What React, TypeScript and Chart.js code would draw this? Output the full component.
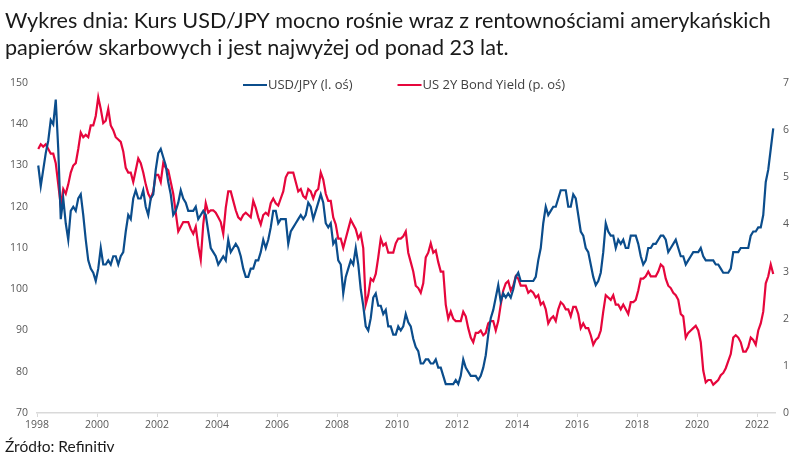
import React, { useEffect, useRef } from "react";
import { Chart, registerables } from "chart.js";

Chart.register(...registerables);

const TITLE_LINES = [
  "Wykres dnia: Kurs USD/JPY mocno rośnie wraz z rentownościami amerykańskich",
  "papierów skarbowych i jest najwyżej od ponad 23 lat.",
];
const SOURCE = "Źródło: Refinitiv";
const SERIES_NAMES = ["USD/JPY (l. oś)", "US 2Y Bond Yield (p. oś)"];
const START_YEAR = 1998;
const X_MIN = 1998;
const X_MAX = 2022.6;
const LEFT_TICKS = { min: 70, max: 150, step: 10 };
const RIGHT_TICKS = { min: 0, max: 7, step: 1 };

// monthly readings, Jan 1998 .. Jul 2022
const usdJpy = [
  // 1998
  130, 125, 129, 133, 136, 141, 140, 146, 134, 117, 122, 116,
  // 1999
  112, 119, 120, 119, 122, 123, 118, 112, 107, 105, 104, 102,
  // 2000
  105, 110, 106, 106, 107, 106, 108, 108, 106, 108, 109, 114,
  // 2001
  118, 117, 122, 124, 122, 122, 124, 120, 118, 122, 123, 129,
  // 2002
  133, 134, 132, 130, 126, 123, 118, 119, 121, 124, 122, 121,
  // 2003
  119, 119, 119, 120, 117, 118, 119, 118, 114, 110, 109, 108,
  // 2004
  106, 107, 108, 107, 112, 109, 110, 111, 110, 108, 105, 103,
  // 2005
  103, 105, 105, 107, 107, 109, 112, 110, 112, 115, 119, 119,
  // 2006
  116, 117, 117, 117, 111, 114, 115, 116, 117, 118, 117, 118,
  // 2007
  121, 120, 117, 119, 121, 123, 121, 116, 115, 116, 111, 112,
  // 2008
  107, 106, 99, 103, 105, 107, 106, 110, 106, 100, 96, 91,
  // 2009
  90, 93, 98, 99, 96, 96, 94, 95, 91, 91, 89, 89,
  // 2010
  91, 90, 91, 94, 92, 91, 88, 86, 85, 82, 82, 83,
  // 2011
  83, 82, 82, 83, 81, 81, 79, 77, 77, 77, 77, 78,
  // 2012
  77, 79, 83, 81, 80, 79, 79, 79, 78, 79, 81, 84,
  // 2013
  89, 93, 95, 98, 101, 97, 99, 98, 99, 98, 100, 103,
  // 2014
  104, 102, 102, 102, 102, 102, 102, 103, 107, 110, 116, 120,
  // 2015
  118, 119, 120, 120, 122, 124, 124, 124, 120, 120, 123, 122,
  // 2016
  118, 114, 113, 110, 109, 106, 103, 101, 102, 104, 109, 116,
  // 2017
  114, 113, 113, 110, 112, 111, 112, 110, 110, 113, 113, 113,
  // 2018
  111, 108, 106, 107, 110, 110, 111, 111, 112, 113, 113, 112,
  // 2019
  109, 110, 111, 112, 110, 108, 108, 106, 107, 108, 109, 109,
  // 2020
  109, 110, 108, 107, 107, 107, 107, 106, 106, 105, 104, 104,
  // 2021
  104, 105, 109, 109, 109, 110, 110, 110, 110, 113, 114, 114,
  // 2022
  115, 115, 118, 126, 129, 134, 139,
];

const bondYield = [
  // 1998
  5.6, 5.7, 5.65, 5.7, 5.6, 5.5, 5.5, 5.3, 4.85, 4.4, 4.75, 4.65,
  // 1999
  4.85, 5.1, 5.25, 5.3, 5.6, 5.95, 5.85, 5.9, 5.85, 6.1, 6.1, 6.3,
  // 2000
  6.7, 6.45, 6.15, 6.2, 6.45, 6.1, 6.0, 5.85, 5.8, 5.75, 5.55, 5.2,
  // 2001
  5.1, 5.1, 4.9, 5.15, 5.4, 5.3, 5.1, 4.85, 4.65, 4.55, 4.7, 5.05,
  // 2002
  5.05, 4.9, 5.3, 5.2, 5.15, 4.9, 4.65, 4.25, 3.85, 3.95, 4.05, 4.05,
  // 2003
  4.05, 3.9, 3.8, 3.95, 3.55, 3.25, 4.0, 4.45, 4.25, 4.3, 4.3, 4.25,
  // 2004
  4.15, 4.05, 3.8, 4.35, 4.7, 4.7, 4.5, 4.3, 4.15, 4.1, 4.2, 4.25,
  // 2005
  4.2, 4.15, 4.5, 4.35, 4.15, 4.0, 4.2, 4.25, 4.2, 4.45, 4.55, 4.45,
  // 2006
  4.4, 4.55, 4.7, 5.0, 5.1, 5.1, 5.1, 4.9, 4.7, 4.75, 4.6, 4.55,
  // 2007
  4.75, 4.7, 4.55, 4.7, 4.75, 5.1, 4.95, 4.65, 4.5, 4.5, 4.15, 4.0,
  // 2008
  3.7, 3.7, 3.5, 3.7, 3.9, 4.1, 4.0, 3.9, 3.7, 3.8, 3.5, 2.3,
  // 2009
  2.5, 2.85, 2.8, 2.95, 3.3, 3.7, 3.55, 3.6, 3.4, 3.4, 3.4, 3.6,
  // 2010
  3.7, 3.7, 3.75, 3.85, 3.4, 3.2, 3.0, 2.7, 2.65, 2.55, 2.75, 3.3,
  // 2011
  3.4, 3.6, 3.4, 3.45, 3.2, 3.0, 3.0, 2.3, 2.0, 2.15, 2.0, 1.95,
  // 2012
  1.95, 1.95, 2.15, 2.05, 1.8, 1.6, 1.5, 1.7, 1.7, 1.75, 1.65, 1.7,
  // 2013
  1.9, 1.95, 1.95, 1.75, 1.95, 2.3, 2.6, 2.75, 2.8, 2.6, 2.7, 2.9,
  // 2014
  2.85, 2.7, 2.7, 2.7, 2.55, 2.6, 2.55, 2.45, 2.5, 2.3, 2.35, 2.2,
  // 2015
  1.9, 2.0, 2.05, 1.95, 2.2, 2.35, 2.3, 2.2, 2.2, 2.05, 2.25, 2.25,
  // 2016
  2.1, 1.8, 1.9, 1.8, 1.8, 1.65, 1.45, 1.55, 1.6, 1.75, 2.15, 2.5,
  // 2017
  2.45, 2.4, 2.5, 2.3, 2.3, 2.2, 2.3, 2.2, 2.1, 2.35, 2.35, 2.4,
  // 2018
  2.6, 2.85, 2.85, 2.9, 3.0, 2.9, 2.9, 2.9, 3.0, 3.15, 3.1, 2.85,
  // 2019
  2.7, 2.65, 2.55, 2.5, 2.4, 2.1, 2.05, 1.6, 1.7, 1.75, 1.8, 1.85,
  // 2020
  1.75, 1.5, 0.9, 0.65, 0.7, 0.7, 0.6, 0.65, 0.7, 0.8, 0.85, 0.95,
  // 2021
  1.1, 1.25, 1.6, 1.65, 1.6, 1.5, 1.3, 1.3, 1.4, 1.6, 1.55, 1.45,
  // 2022
  1.75, 1.9, 2.15, 2.75, 2.9, 3.15, 2.95,
];

const BLUE = "#0b4d8c";
const RED = "#e6063c";
const TICK_COLOR = "#595959";

const monthX = (i: number) => START_YEAR + (i + 0.5) / 12;

const overlayPlugin = {
  id: "overlay",
  afterDraw(chart: any) {
    const ctx = chart.ctx;
    ctx.save();
    // title
    ctx.fillStyle = "#1a1a1a";
    ctx.textBaseline = "middle";
    ctx.textAlign = "left";
    ctx.font = "21.6px Lato";
    ctx.fillText(TITLE_LINES[0], 5, 21);
    ctx.fillText(TITLE_LINES[1], 5, 48);
    // source
    ctx.font = "15.5px Lato";
    ctx.fillText(SOURCE, 5, 447);
    // legend
    ctx.font = "13px 'Open Sans'";
    const colors = [BLUE, RED];
    let x = 243;
    const y = 85;
    SERIES_NAMES.forEach((name, k) => {
      ctx.strokeStyle = colors[k];
      ctx.lineWidth = 2;
      ctx.beginPath();
      ctx.moveTo(x, y);
      ctx.lineTo(x + 24, y);
      ctx.stroke();
      ctx.fillStyle = "#404040";
      ctx.fillText(name, x + 25, y);
      x += 25 + ctx.measureText(name).width + 45;
    });
    ctx.restore();
  },
};

export default function App() {
  const ref = useRef<HTMLCanvasElement>(null);
  useEffect(() => {
    document.body.style.margin = "0";
    const chart = new Chart(ref.current!, {
      type: "line",
      data: {
        datasets: [
          {
            label: SERIES_NAMES[0],
            data: usdJpy.map((v, i) => ({ x: monthX(i), y: v })),
            borderColor: BLUE,
            borderWidth: 2.2,
            pointRadius: 0,
            tension: 0,
            yAxisID: "y",
          },
          {
            label: SERIES_NAMES[1],
            data: bondYield.map((v, i) => ({ x: monthX(i), y: v })),
            borderColor: RED,
            borderWidth: 2.2,
            pointRadius: 0,
            tension: 0,
            yAxisID: "y1",
          },
        ],
      },
      options: {
        animation: false,
        responsive: false,
        layout: { padding: { top: 83, left: 0, right: 0, bottom: 0 } },
        plugins: { legend: { display: false }, tooltip: { enabled: false } },
        scales: {
          x: {
            type: "linear",
            min: X_MIN,
            max: X_MAX,
            afterFit: (s: any) => {
              s.height = 55;
            },
            grid: {
              display: true,
              drawOnChartArea: false,
              drawTicks: true,
              tickLength: 4,
              color: "#d9d9d9",
            },
            border: { display: true, color: "#d9d9d9", width: 1.5 },
            ticks: {
              stepSize: 2,
              includeBounds: false,
              maxRotation: 0,
              padding: 2,
              color: TICK_COLOR,
              font: { family: "'Open Sans'", size: 10.5 },
              callback: (v: any) => String(v),
            },
          },
          y: {
            position: "left",
            min: LEFT_TICKS.min,
            max: LEFT_TICKS.max,
            afterFit: (s: any) => {
              s.width = 37;
            },
            grid: { display: false, drawTicks: false },
            border: { display: false },
            ticks: {
              stepSize: LEFT_TICKS.step,
              padding: 9,
              color: TICK_COLOR,
              font: { family: "'Open Sans'", size: 10.5 },
            },
          },
          y1: {
            position: "right",
            min: RIGHT_TICKS.min,
            max: RIGHT_TICKS.max,
            afterFit: (s: any) => {
              s.width = 25;
            },
            grid: { display: false, drawTicks: false },
            border: { display: false },
            ticks: {
              stepSize: RIGHT_TICKS.step,
              padding: 8,
              color: TICK_COLOR,
              font: { family: "'Open Sans'", size: 10.5 },
            },
          },
        },
      },
      plugins: [overlayPlugin],
    });
    return () => chart.destroy();
  }, []);
  return (
    <div style={{ position: "absolute", left: 0, top: 0, width: 800, height: 468, background: "#fff" }}>
      <canvas ref={ref} width={800} height={468} />
    </div>
  );
}
